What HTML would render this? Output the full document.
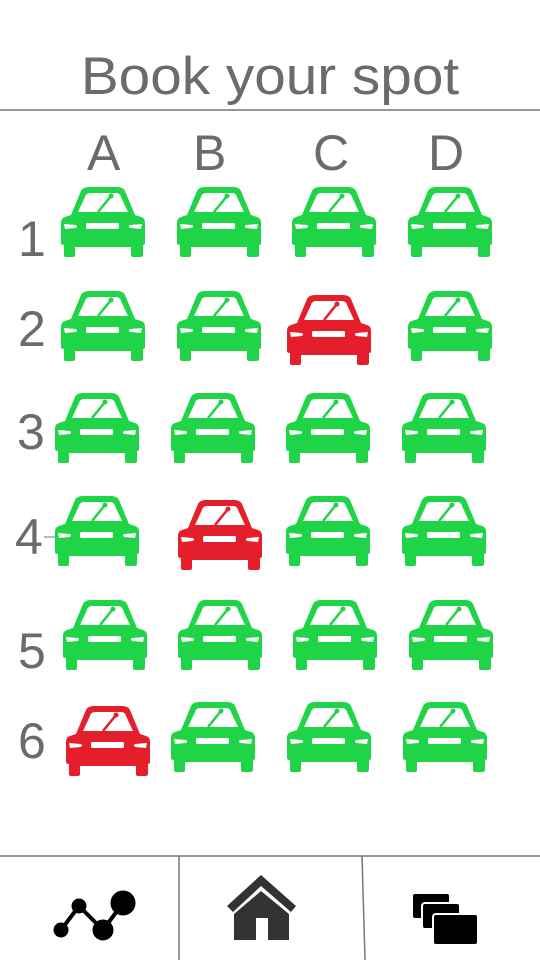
<!DOCTYPE html>
<html><head><meta charset="utf-8"><style>
body{margin:0;width:540px;height:960px;background:#fff;position:relative;overflow:hidden;font-family:"Liberation Sans",sans-serif}
.t{position:absolute;color:#6b6b6b;font-size:50px;line-height:1}
svg{position:absolute;left:0;top:0}
</style></head><body>
<div class="t" style="left:0;width:540px;text-align:center;top:50px;font-size:53px;transform:scaleX(1.07)">Book your spot</div>
<svg width="540" height="960">
<defs>
<g id="car">
<path d="M20,4 Q22,0 28,0 L56,0 Q62,0 64,4 L74,28 L80,30 Q84,31 84,36 L84,56 Q84,58 82,58 L82,68 Q82,70 79,70 L72,70 Q70,70 70,68 L70,60 L14,60 L14,68 Q14,70 12,70 L5,70 Q3,70 3,68 L3,58 Q0,58 0,56 L0,36 Q0,31 4,30 L10,28 Z"/>
<path d="M29,6 L55,6 Q59,6 60,10 L67,25 L17,25 L24,10 Q25,6 29,6 Z" fill="#fff"/>
<path d="M37,25 L50,9" stroke="currentColor" stroke-width="2.5"/>
<circle cx="50" cy="9" r="2.5" fill="currentColor"/>
<path d="M3,37 L15,38 Q17,39 15,41 L4,42 Z" fill="#fff"/>
<path d="M81,37 L69,38 Q67,39 69,41 L80,42 Z" fill="#fff"/>
<rect x="25" y="36" width="33" height="6" rx="1.5" fill="#fff"/>
</g>
</defs>
<line x1="0" y1="110" x2="540" y2="110" stroke="#777" stroke-width="1.5"/>
<line x1="0" y1="856" x2="540" y2="856" stroke="#777" stroke-width="1.5"/>
<line x1="179" y1="856" x2="179" y2="960" stroke="#777" stroke-width="1.5"/>
<line x1="362" y1="856" x2="365" y2="960" stroke="#777" stroke-width="1.5"/>
<line x1="44" y1="537" x2="55" y2="537" stroke="#777" stroke-width="1"/>
<g id="cars"></g>
<g fill="#000" stroke="#000">
<polyline points="61,930 79,906 103,930 123,903" fill="none" stroke-width="4"/>
<circle cx="61" cy="930" r="7"/><circle cx="79" cy="906" r="7"/><circle cx="103" cy="930" r="10"/><circle cx="123" cy="903" r="12"/>
</g>
<g fill="#333">
<path d="M227,906 L261,875 L296,906 L291,912 L261,886 L233,912 Z"/>
<path d="M234,914 L261,891 L289,914 L289,940 L268,940 L268,918 L256,918 L256,940 L234,940 Z"/>
</g>
<g fill="#000" stroke="#fff" stroke-width="2">
<rect x="412" y="893" width="38" height="26" rx="3"/>
<rect x="422" y="903" width="38" height="26" rx="3"/>
<rect x="433" y="914" width="45" height="31" rx="3"/>
</g>
</svg>
<div class="t" style="left:87px;top:128px">A</div>
<div class="t" style="left:193px;top:128px">B</div>
<div class="t" style="left:313px;top:128px">C</div>
<div class="t" style="left:428px;top:128px">D</div>
<div class="t" style="left:18px;top:214px">1</div>
<div class="t" style="left:18px;top:304px">2</div>
<div class="t" style="left:17px;top:407px">3</div>
<div class="t" style="left:15px;top:512px">4</div>
<div class="t" style="left:18px;top:626px">5</div>
<div class="t" style="left:18px;top:716px">6</div>
<script>
const rowsY=[187,291,393,496,600,702];
const colsX=[[61,177,292,408],[61,177,286,408],[55,171,286,402],[55,177,286,402],[63,178,293,409],[65,171,287,403]];
const taken=[[0,0,0,0],[0,0,1,0],[0,0,0,0],[0,1,0,0],[0,0,0,0],[1,0,0,0]];
const g=document.getElementById('cars');
const NS='http://www.w3.org/2000/svg';
rowsY.forEach((y,r)=>colsX[r].forEach((x,c)=>{
  const u=document.createElementNS(NS,'use');
  u.setAttribute('href','#car');
  const red=taken[r][c];
  const col=red?'#e41e2a':'#1fd446';
  u.setAttribute('x',red?x+1:x);u.setAttribute('y',red?y+4:y);
  u.setAttribute('fill',col);u.setAttribute('color',col);
  
  
  g.appendChild(u);
}));
</script>
</body></html>
